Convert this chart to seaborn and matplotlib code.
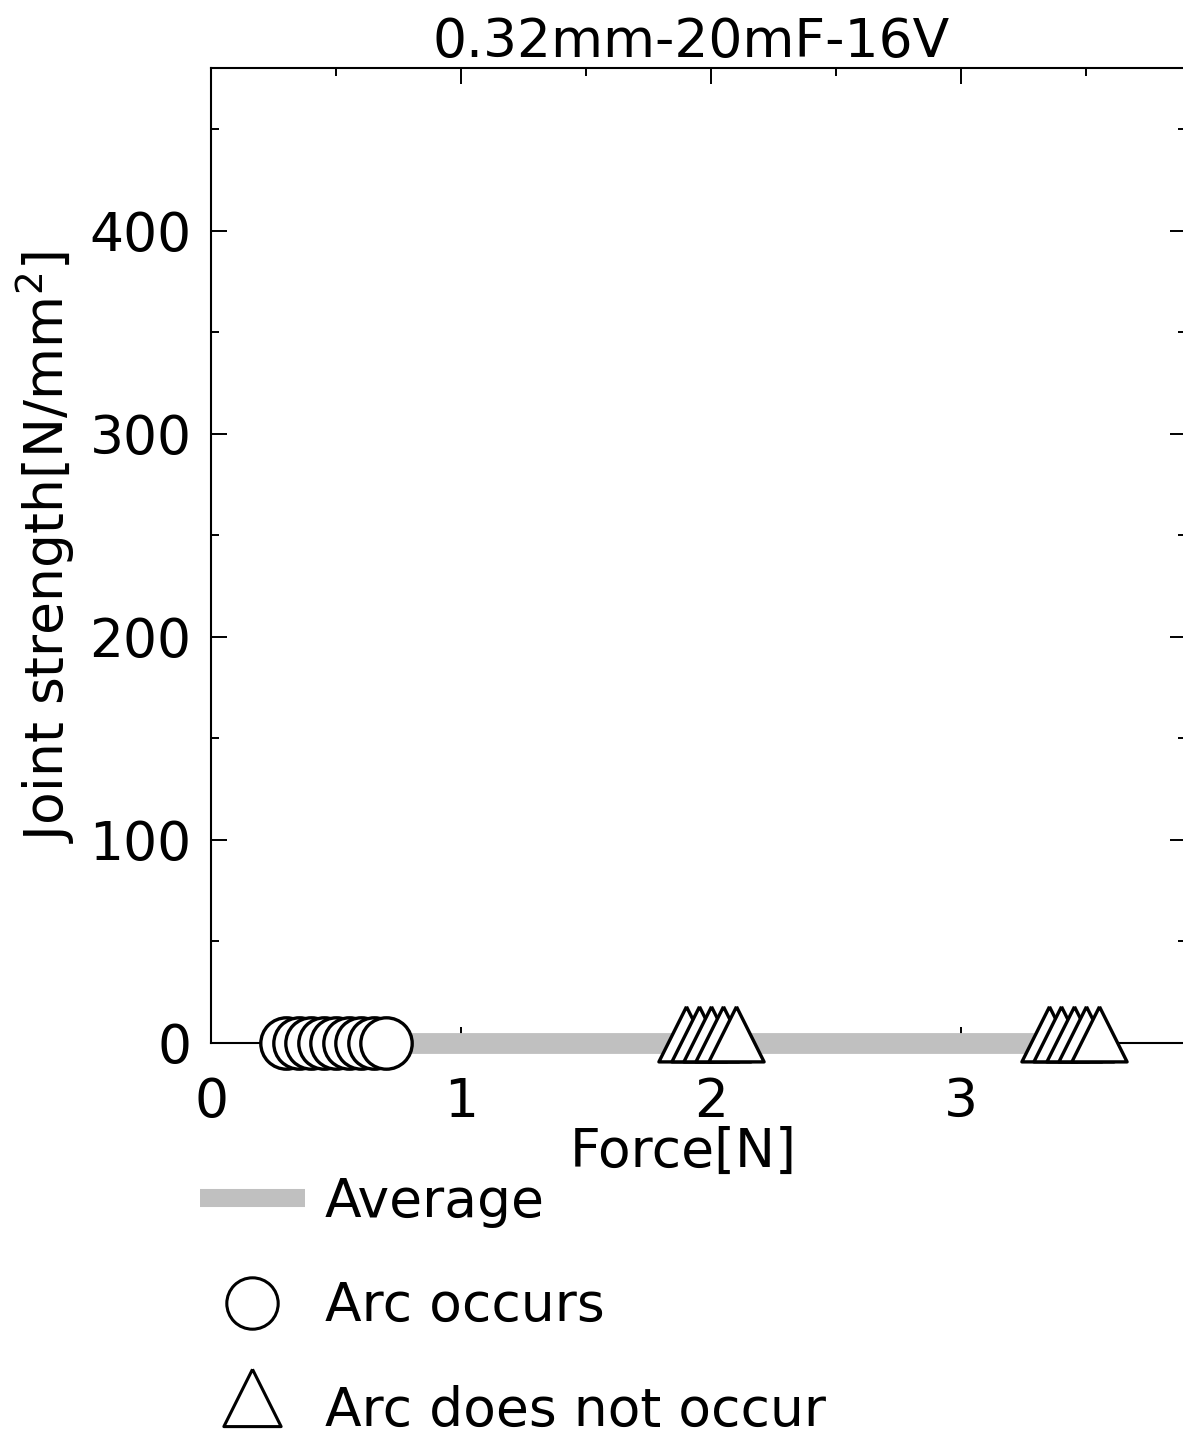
import numpy as np
import pandas as pd
import matplotlib
matplotlib.use("Agg")
import matplotlib.pyplot as plt
import seaborn as sns
from matplotlib.lines import Line2D
from matplotlib.markers import MarkerStyle
from matplotlib.ticker import MultipleLocator

# ---- data ----
title_text = "0.32mm-20mF-16V"
arc_force = [0.30, 0.35, 0.40, 0.45, 0.50, 0.55, 0.60, 0.65, 0.70]
arc_strength = [0, 0, 0, 0, 0, 0, 0, 0, 0]
noarc_force = [1.90, 1.95, 2.00, 2.05, 2.10, 3.35, 3.40, 3.45, 3.50, 3.55]
noarc_strength = [0, 0, 0, 0, 0, 0, 0, 0, 0, 0]
avg_force = [0.50, 2.00, 3.45]
avg_strength = [0, 0, 0]
x_ticks = [0, 1, 2, 3]
y_ticks = [0, 100, 200, 300, 400]
legend_labels = ["Average", "Arc occurs", "Arc does not occur"]

sns.set_theme(style="ticks")
plt.rcParams["font.family"] = ["DejaVu Sans"]
plt.rcParams.update({"text.color": "black", "axes.labelcolor": "black",
                     "xtick.color": "black", "ytick.color": "black",
                     "axes.edgecolor": "black"})
FS = 38.5

W, H = 1183, 1439
fig = plt.figure(figsize=(W / 100, H / 100), dpi=100)
ax = fig.add_axes([211 / W, 396 / H, 975 / W, 975 / H])

# centroid-centred triangle marker
tri = MarkerStyle(np.array([(0, 2 / 3), (-0.5, -1 / 3), (0.5, -1 / 3), (0, 2 / 3)]))

df_avg = pd.DataFrame({"force": avg_force, "strength": avg_strength})
df_arc = pd.DataFrame({"force": arc_force, "strength": arc_strength})
df_no = pd.DataFrame({"force": noarc_force, "strength": noarc_strength})

sns.lineplot(data=df_avg, x="force", y="strength", ax=ax, color="#c0c0c0",
             linewidth=15, solid_capstyle="butt", zorder=2.8, clip_on=False,
             legend=False)
sns.scatterplot(data=df_arc, x="force", y="strength", ax=ax, marker="o",
                s=37 ** 2, color="white", edgecolor="black", linewidth=2.4,
                zorder=3, clip_on=False, legend=False)
sns.scatterplot(data=df_no, x="force", y="strength", ax=ax, marker=tri,
                s=53 ** 2, color="white", edgecolor="black", linewidth=2.4,
                zorder=3, clip_on=False, legend=False)

ax.set_xlim(0, 3.9)
ax.set_ylim(0, 480)
ax.set_xticks(x_ticks)
ax.set_yticks(y_ticks)
ax.xaxis.set_minor_locator(MultipleLocator(0.5))
ax.yaxis.set_minor_locator(MultipleLocator(50))
ax.tick_params(which="both", direction="in", top=True, right=True,
               width=1.4, color="black", labelcolor="black")
ax.tick_params(which="major", length=11.5)
ax.tick_params(which="minor", length=6)
ax.tick_params(axis="x", which="major", labelsize=FS, pad=24)
ax.tick_params(axis="y", which="major", labelsize=FS, pad=14)
for s in ax.spines.values():
    s.set_linewidth(1.5)
    s.set_color("black")

ax.set_xlabel("Force[N]", fontsize=FS, labelpad=0, color="black")
ax.xaxis.set_label_coords(0.484, -0.085)
ax.set_ylabel("Joint strength[N/mm$^2$]", fontsize=FS, labelpad=12, color="black")
ax.yaxis.set_label_coords(-0.137, 0.509)
ax.set_title(title_text, fontsize=FS, x=0.492, pad=2, color="black")

handles = [
    Line2D([], [], color="#c0c0c0", linewidth=13, solid_capstyle="butt"),
    Line2D([], [], linestyle="none", marker="o", markersize=37,
           markerfacecolor="white", markeredgecolor="black", markeredgewidth=2.2),
    Line2D([], [], linestyle="none", marker=tri, markersize=55,
           markerfacecolor="white", markeredgecolor="black", markeredgewidth=2.2),
]
fig.legend(handles, legend_labels, loc="upper left",
           bbox_to_anchor=(200 / W, 1 - 1176 / H), frameon=False,
           fontsize=FS, handlelength=1.96, handletextpad=0.37,
           labelspacing=0.98, borderpad=0, borderaxespad=0, labelcolor="black")

fig.savefig("out.png", dpi=100)
